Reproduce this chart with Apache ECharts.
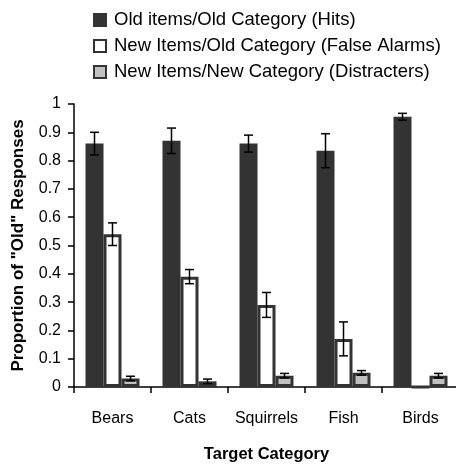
<!DOCTYPE html>
<html>
<head>
<meta charset="utf-8">
<script src="https://cdn.jsdelivr.net/npm/echarts@6/dist/echarts.min.js"></script>
<style>
  html, body { margin: 0; padding: 0; background: #fff; }
  #chart { width: 456px; height: 464px; }
</style>
</head>
<body>
<div id="chart"></div>
<script>
const categories = ['Bears', 'Cats', 'Squirrels', 'Fish', 'Birds']
const seriesNames = [
  'Old items/Old Category (Hits)',
  'New Items/Old Category (False Alarms)',
  'New Items/New Category (Distracters)'
]
const hits = [0.86, 0.87, 0.86, 0.835, 0.955]
const hitsErr = [0.04, 0.045, 0.03, 0.06, 0.012]
const falseAlarms = [0.54, 0.39, 0.29, 0.17, 0]
const falseAlarmsErr = [0.04, 0.025, 0.044, 0.06, 0]
const distracters = [0.03, 0.02, 0.04, 0.05, 0.04]
const distractersErr = [0.008, 0.008, 0.008, 0.008, 0.008]

const FONT = 'Liberation Sans, Arial, sans-serif'
const BAR_W = 18
const DARK = '#333333'

// error bars drawn on top of the grouped bars, slot = position in the group
function errorSeries(values, errs, slot) {
  return {
    type: 'custom',
    silent: true,
    z: 10,
    data: values.map((v, i) => [i, v, errs[i]]),
    renderItem: function (params, api) {
      const i = api.value(0), v = api.value(1), e = api.value(2)
      if (!e) return null
      const c = api.coord([i, v])
      const x = c[0] + (slot - 1) * BAR_W
      const top = api.coord([i, v + e])[1]
      const bot = api.coord([i, v - e])[1]
      const style = { stroke: '#000', lineWidth: 1.5 }
      return {
        type: 'group',
        children: [
          { type: 'line', shape: { x1: x, y1: top, x2: x, y2: bot }, style },
          { type: 'line', shape: { x1: x - 4.5, y1: top, x2: x + 4.5, y2: top }, style },
          { type: 'line', shape: { x1: x - 4.5, y1: bot, x2: x + 4.5, y2: bot }, style }
        ]
      }
    }
  }
}

const chart = echarts.init(document.getElementById('chart'))
chart.setOption({
  animation: false,
  textStyle: { fontFamily: FONT },
  legend: {
    orient: 'vertical',
    left: 93,
    top: 10,
    padding: 0,
    itemGap: 6,
    itemWidth: 12,
    itemHeight: 12,
    icon: 'rect',
    textStyle: { fontFamily: FONT, fontSize: 18.5, lineHeight: 20, color: '#000', padding: [0, 0, 0, 3] },
    data: seriesNames
  },
  grid: { left: 74, top: 104, width: 385, height: 283, outerBoundsMode: 'none' },
  xAxis: {
    type: 'category',
    data: categories,
    name: 'Target Category',
    nameLocation: 'middle',
    nameGap: 59,
    nameTextStyle: { fontFamily: FONT, fontSize: 16.5, fontWeight: 'bold', color: '#000' },
    axisLine: { lineStyle: { color: '#000', width: 1.5 } },
    axisTick: { show: true, length: 6, lineStyle: { color: '#000', width: 1.5 } },
    axisLabel: { fontFamily: FONT, fontSize: 16, color: '#000', margin: 24, interval: 0 }
  },
  yAxis: {
    type: 'value',
    min: 0,
    max: 1,
    interval: 0.1,
    name: 'Proportion of "Old" Responses',
    nameLocation: 'middle',
    nameGap: 47,
    nameTextStyle: { fontFamily: FONT, fontSize: 17, fontWeight: 'bold', color: '#000' },
    axisLine: { show: true, lineStyle: { color: '#000', width: 1.5 } },
    axisTick: { show: true, length: 6, lineStyle: { color: '#000', width: 1.5 } },
    splitLine: { show: false },
    axisLabel: {
      fontFamily: FONT, fontSize: 16, color: '#000', margin: 13,
      formatter: v => String(+v.toFixed(1))
    }
  },
  series: [
    {
      name: seriesNames[0], type: 'bar', data: hits, barWidth: BAR_W, barGap: '0%',
      itemStyle: { color: DARK, borderColor: DARK, borderWidth: 3 }
    },
    {
      name: seriesNames[1], type: 'bar', data: falseAlarms, barWidth: BAR_W, barGap: '0%',
      itemStyle: { color: '#ffffff', borderColor: DARK, borderWidth: 3 }
    },
    {
      name: seriesNames[2], type: 'bar', data: distracters, barWidth: BAR_W, barGap: '0%',
      itemStyle: { color: '#c0c0c0', borderColor: DARK, borderWidth: 3 }
    },
    errorSeries(hits, hitsErr, 0),
    errorSeries(falseAlarms, falseAlarmsErr, 1),
    errorSeries(distracters, distractersErr, 2)
  ]
})
</script>
</body>
</html>
